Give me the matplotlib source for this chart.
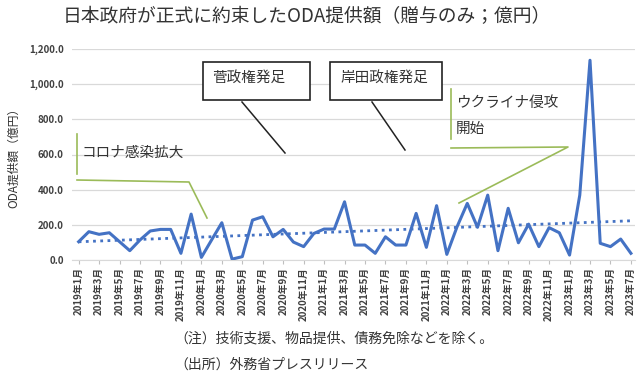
import numpy as np
import matplotlib
matplotlib.use("Agg")
import matplotlib.pyplot as plt
from matplotlib.lines import Line2D
from matplotlib.patches import Rectangle
from matplotlib.ticker import FuncFormatter

plt.rcParams['font.family'] = ['Noto Sans CJK JP', 'DejaVu Sans']

# monthly commitments, 2019-01 .. 2023-07 (100 million yen)
years = [2019] * 12 + [2020] * 12 + [2021] * 12 + [2022] * 12 + [2023] * 7
months = list(range(1, 13)) * 4 + list(range(1, 8))
oda = [104, 161, 146, 155, 104, 53, 114, 165, 174, 174, 38, 261,
       15, 114, 212, 5, 19, 227, 246, 132, 174, 102, 76, 151,
       176, 176, 331, 85, 85, 38, 132, 85, 85, 265, 72, 309,
       32, 189, 322, 186, 369, 53, 294, 98, 204, 76, 184, 155,
       28, 369, 1136, 95, 76, 119, 38]
labels = [f"{y}年{m}月" for y, m in zip(years, months)]

blue = '#4472C4'
green = '#9BBB59'
txt = '#333333'

W, H = 640, 376
fig = plt.figure(figsize=(W / 100, H / 100), dpi=100)

def px(x, y):
    return (x / W, 1 - y / H)

def fline(points, color, lw=1.2):
    fig.add_artist(Line2D([px(*p)[0] for p in points], [px(*p)[1] for p in points],
                          transform=fig.transFigure, color=color, lw=lw))

ax = fig.add_axes([72 / W, 1 - 260 / H, (635 - 72) / W, (260 - 49) / H])
x = np.arange(len(oda))
ax.plot(x, oda, color=blue, lw=2.2, zorder=3)
k, b = np.polyfit(x, oda, 1)
ax.plot(x, k * x + b, color=blue, lw=2, ls=(0, (1, 1.6)), zorder=2)

ax.set_ylim(0, 1200)
ax.set_xlim(-0.65, 54.4)
ax.set_yticks(np.arange(0, 1201, 200))
ax.yaxis.set_major_formatter(FuncFormatter(lambda v, p: f"{v:,.1f}"))
ax.set_xticks(x[::2])
ax.set_xticklabels(labels[::2], rotation=90, fontsize=7, fontweight='bold', color='#404040')
for t in ax.get_yticklabels():
    t.set_fontweight('bold')
ax.tick_params(axis='y', length=0, labelsize=7, pad=6, labelcolor='#404040')
ax.tick_params(axis='x', length=3, color='#BFBFBF', pad=2)
ax.grid(axis='y', color='#D9D9D9', lw=0.9)
ax.set_axisbelow(True)
for s in ['top', 'right', 'left']:
    ax.spines[s].set_visible(False)
ax.spines['bottom'].set_color('#D9D9D9')
ax.set_ylabel('ODA提供額（億円）', fontsize=8.5, labelpad=6, color=txt)

fig.text(307 / W, 1 - 17 / H, '日本政府が正式に約束したODA提供額（贈与のみ；億円）',
         ha='center', va='center', fontsize=13.5, color=txt)

# コロナ callout
fline([(77, 134), (77, 174)], green)
fline([(77, 180), (189, 182), (207, 218)], green)
fig.text(*px(82, 153), 'コロナ感染拡大', fontsize=10.5, va='center', color=txt)

# 菅 box
fig.add_artist(Rectangle(px(203, 100), 107 / W, 38 / H, transform=fig.transFigure,
                         facecolor='white', edgecolor='#222222', lw=1.2))
fig.text(*px(212, 78), '菅政権発足', fontsize=10.5, va='center', color=txt)
fline([(242, 102), (285, 153)], '#222222', 1.1)

# 岸田 box
fig.add_artist(Rectangle(px(330, 100), 112 / W, 38 / H, transform=fig.transFigure,
                         facecolor='white', edgecolor='#222222', lw=1.2))
fig.text(*px(340, 78), '岸田政権発足', fontsize=10.5, va='center', color=txt)
fline([(372, 102), (405, 150)], '#222222', 1.1)

# ウクライナ callout
fline([(451, 89), (451, 139)], green)
fline([(451, 148), (568, 147), (459, 203)], green)
fig.text(*px(456, 103), 'ウクライナ侵攻', fontsize=10.5, va='center', color=txt)
fig.text(*px(456, 129), '開始', fontsize=10.5, va='center', color=txt)

fig.text(*px(174, 339), '（注）技術支援、物品提供、債務免除などを除く。', fontsize=10,
         va='center', color=txt)
fig.text(*px(174, 365), '（出所）外務省プレスリリース', fontsize=10,
         va='center', color=txt)

fig.savefig('out.png', dpi=100)
